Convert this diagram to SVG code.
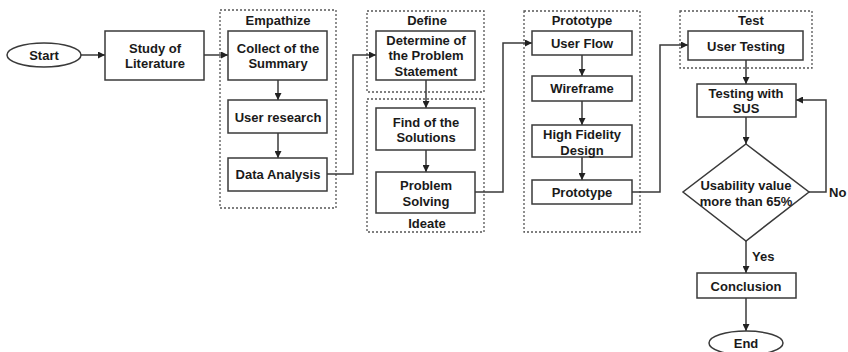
<svg xmlns="http://www.w3.org/2000/svg" width="848" height="352" viewBox="0 0 848 352">
<style>
text{font-family:"Liberation Sans",Arial,sans-serif;font-weight:bold;font-size:13px;fill:#1a1a1a;text-anchor:middle}
.box{fill:#fff;stroke:#3a3a3a;stroke-width:1.5}
.grp{fill:none;stroke:#555;stroke-width:1.3;stroke-dasharray:2 2}
.ln{fill:none;stroke:#3a3a3a;stroke-width:1.5;marker-end:url(#ah)}
</style>
<defs>
<marker id="ah" viewBox="0 0 10 10" refX="10" refY="5" markerWidth="7" markerHeight="7" markerUnits="userSpaceOnUse" orient="auto">
<path d="M0,0 L10,5 L0,10 z" fill="#222"/>
</marker>
</defs>
<rect width="848" height="352" fill="#fff"/>
<g id="groups">
<rect class="grp" x="220" y="10" width="116" height="198"/>
<text x="278" y="25">Empathize</text>
<rect class="grp" x="367" y="11" width="117" height="81"/>
<text x="427" y="24.5">Define</text>
<rect class="grp" x="367" y="99" width="117" height="133"/>
<text x="427" y="227.5">Ideate</text>
<rect class="grp" x="524" y="11" width="116" height="221"/>
<text x="582" y="24.5">Prototype</text>
<rect class="grp" x="680" y="11" width="132" height="57"/>
<text x="751" y="24.5">Test</text>
</g>
<g id="connectors">
<path class="ln" d="M81,55 H105"/>
<path class="ln" d="M204,55 H228"/>
<path class="ln" d="M278,80 V100"/>
<path class="ln" d="M278,133 V158"/>
<path class="ln" d="M327,174 H353 V55 H376"/>
<path class="ln" d="M426,80 V108"/>
<path class="ln" d="M426,150 V172"/>
<path class="ln" d="M475,192 H503 V43 H532"/>
<path class="ln" d="M582,55 V76"/>
<path class="ln" d="M582,101 V125"/>
<path class="ln" d="M582,157 V180"/>
<path class="ln" d="M632,192 H660 V45 H688"/>
<path class="ln" d="M746,60 V84"/>
<path class="ln" d="M746,117 V144"/>
<path class="ln" d="M809,192 H826 V100 H796"/>
<path class="ln" d="M746,241 V273"/>
<path class="ln" d="M746,298 V331"/>
<text x="829" y="196.5" style="text-anchor:start">No</text>
<text x="752" y="260.5" style="text-anchor:start">Yes</text>
</g>
<g id="start"><ellipse class="box" cx="44" cy="55" rx="37" ry="12"/><text x="44" y="59.5">Start</text></g>
<g id="study"><rect class="box" x="105" y="31" width="99" height="49"/><text x="155" y="52.5">Study of</text><text x="155" y="67.5">Literature</text></g>
<g id="collect"><rect class="box" x="228" y="31" width="99" height="49"/><text x="278" y="52.5">Collect of the</text><text x="278" y="67.5">Summary</text></g>
<g id="research"><rect class="box" x="228" y="100" width="99" height="33"/><text x="278" y="121.5">User research</text></g>
<g id="analysis"><rect class="box" x="228" y="158" width="99" height="33"/><text x="278" y="178.5">Data Analysis</text></g>
<g id="determine"><rect class="box" x="376" y="31" width="99" height="49"/><text x="426" y="44.5">Determine of</text><text x="426" y="60">the Problem</text><text x="426" y="75.5">Statement</text></g>
<g id="find"><rect class="box" x="376" y="108" width="99" height="42"/><text x="426" y="126.5">Find of the</text><text x="426" y="141.5">Solutions</text></g>
<g id="solving"><rect class="box" x="376" y="172" width="99" height="41"/><text x="426" y="189.5">Problem</text><text x="426" y="205.5">Solving</text></g>
<g id="userflow"><rect class="box" x="532" y="31" width="100" height="24"/><text x="582" y="47.5">User Flow</text></g>
<g id="wireframe"><rect class="box" x="532" y="76" width="100" height="25"/><text x="582" y="92.5">Wireframe</text></g>
<g id="hifi"><rect class="box" x="532" y="125" width="100" height="32"/><text x="582" y="138.5">High Fidelity</text><text x="582" y="154.5">Design</text></g>
<g id="prototype"><rect class="box" x="532" y="180" width="100" height="24"/><text x="582" y="196.5">Prototype</text></g>
<g id="usertesting"><rect class="box" x="688" y="31" width="115" height="29"/><text x="746" y="50.5">User Testing</text></g>
<g id="sus"><rect class="box" x="697" y="84" width="99" height="33"/><text x="746" y="97.5">Testing with</text><text x="746" y="112.5">SUS</text></g>
<g id="decision"><path class="box" d="M746,144 L809,192 L746,241 L683,192 Z"/><text x="746" y="189.5">Usability value</text><text x="746" y="205.5">more than 65%</text></g>
<g id="conclusion"><rect class="box" x="697" y="273" width="99" height="25"/><text x="746" y="290.5">Conclusion</text></g>
<g id="end"><ellipse class="box" cx="746" cy="343" rx="37" ry="12"/><text x="746" y="347.5">End</text></g>
</svg>
